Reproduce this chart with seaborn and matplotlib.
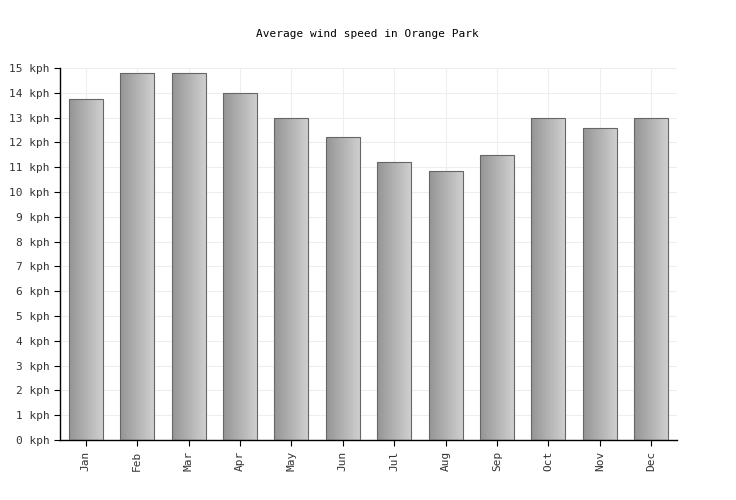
import numpy as np
import pandas as pd
import matplotlib
matplotlib.use("Agg")
import matplotlib.pyplot as plt
import seaborn as sns

months = ["Jan", "Feb", "Mar", "Apr", "May", "Jun", "Jul", "Aug", "Sep", "Oct", "Nov", "Dec"]
wind_kph = [13.75, 14.8, 14.8, 14.0, 13.0, 12.2, 11.2, 10.85, 11.5, 13.0, 12.6, 13.0]
ytick_vals = list(range(0, 16))

sns.set_style("white")
plt.rcParams['font.family'] = ['DejaVu Sans Mono']

df = pd.DataFrame({"month": months, "kph": wind_kph})
fig = plt.figure(figsize=(7.36, 5), dpi=100)
ax = fig.add_axes([60 / 736, 60 / 500, 617 / 736, 372 / 500])

sns.barplot(data=df, x="month", y="kph", color="#aaaaaa", width=0.66,
            edgecolor="#666666", linewidth=0.8, ax=ax, zorder=2)

# horizontal gradient inside each bar (dark left, light right)
grad = np.linspace(0, 1, 64).reshape(1, -1)
cmap = matplotlib.colors.LinearSegmentedColormap.from_list("g", ["#959595", "#cfcfcf"])
for p in ax.patches:
    x0, y0 = p.get_x(), p.get_y()
    w, h = p.get_width(), p.get_height()
    im = ax.imshow(grad, cmap=cmap, aspect="auto", extent=[x0, x0 + w, y0, y0 + h], zorder=2.5)
    im.set_clip_path(p)
    p.set_facecolor("none")
    p.set_zorder(3)

ax.set_xlim(-0.5, 11.5)
ax.set_ylim(0, 15)
ax.set_yticks(ytick_vals)
ax.set_yticklabels([f"{v} kph" for v in ytick_vals], fontsize=8, color="#333333")
ax.set_xticks(range(12))
ax.set_xticklabels(months, rotation=90, fontsize=8, color="#333333")
ax.tick_params(axis="both", length=4, color="#000000", direction="out", bottom=True, left=True)
ax.grid(True, color="#eeeeee", linewidth=0.8, zorder=0)
ax.set_axisbelow(True)
for s in ["top", "right"]:
    ax.spines[s].set_visible(False)
for s in ["left", "bottom"]:
    ax.spines[s].set_color("#000000")
    ax.spines[s].set_linewidth(1)
ax.set_xlabel("")
ax.set_ylabel("")
fig.text(367 / 736, 1 - 34 / 500, "Average wind speed in Orange Park", ha="center", va="center",
         fontsize=8, color="#000000")

fig.savefig("out.png", dpi=100)
